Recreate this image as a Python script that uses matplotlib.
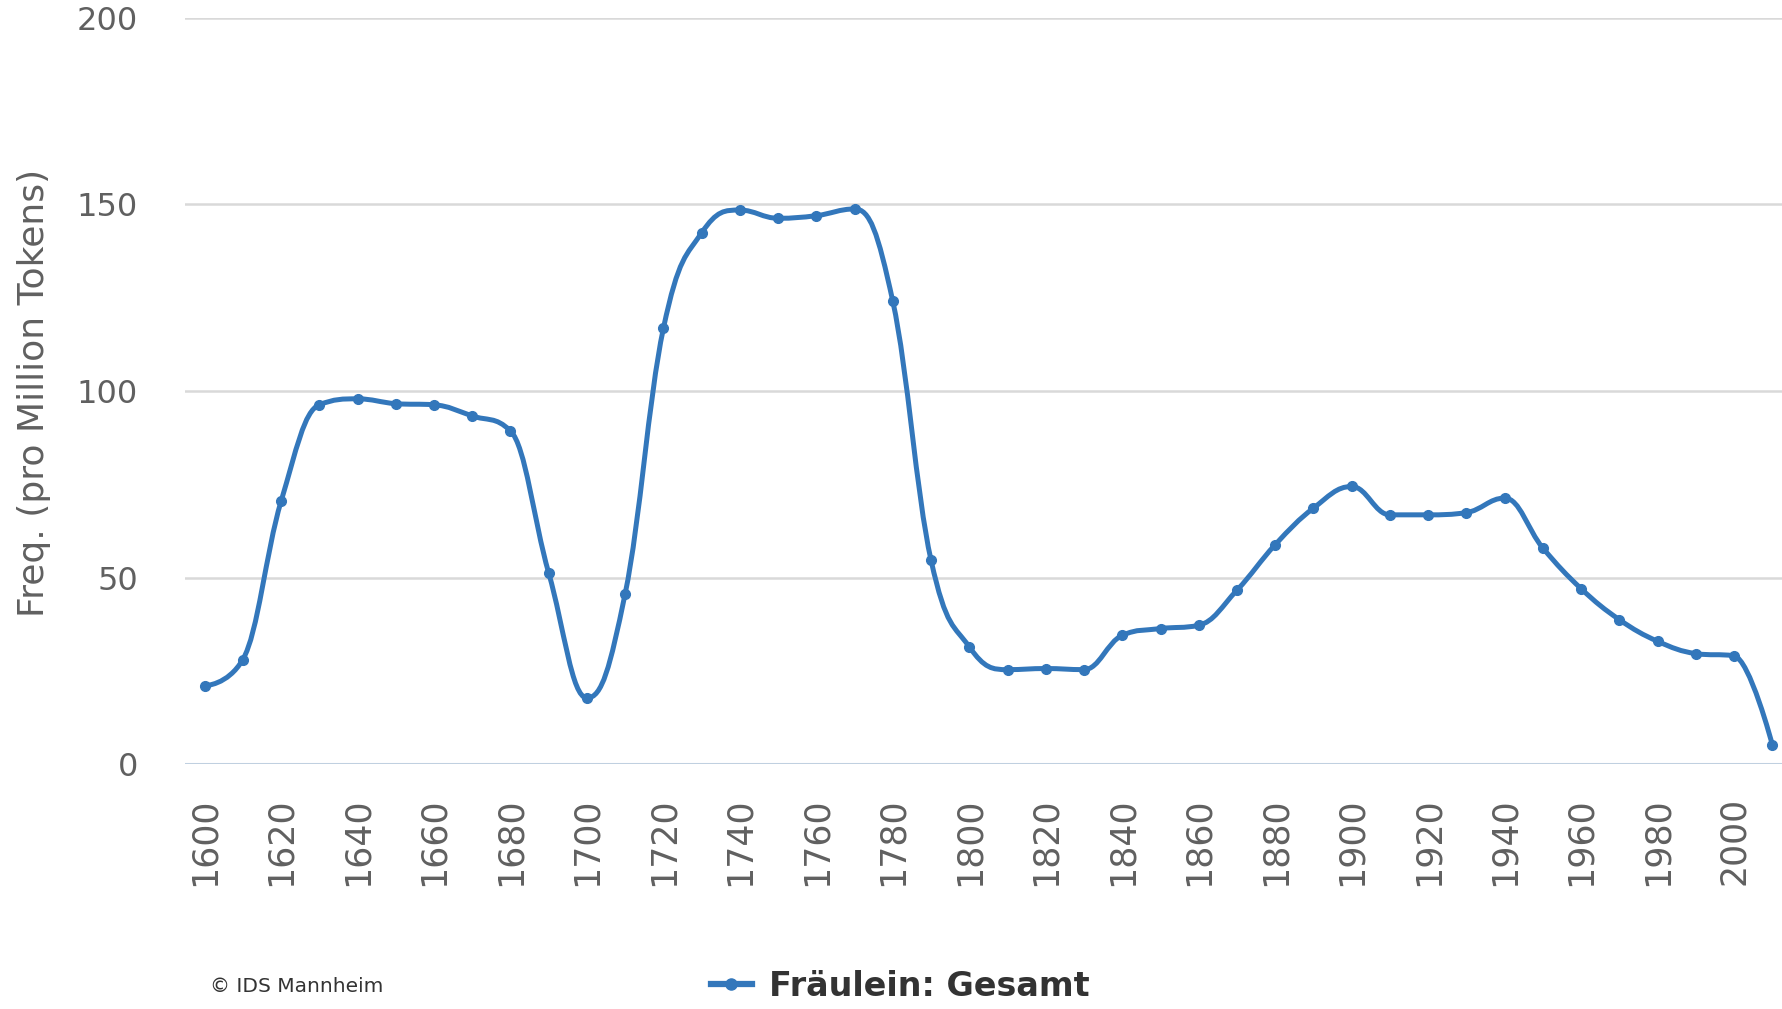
"""
Frecuencia de "Fräulein" (pro millón de tokens) por década, 1600-2010.
"""
#-->Importar librerías
import matplotlib
matplotlib.use("Agg")
import matplotlib.pyplot as plt
from matplotlib.path import Path
from matplotlib.patches import PathPatch

#-->Datos
jahre = [1600, 1610, 1620, 1630, 1640, 1650, 1660, 1670, 1680, 1690,
         1700, 1710, 1720, 1730, 1740, 1750, 1760, 1770, 1780, 1790,
         1800, 1810, 1820, 1830, 1840, 1850, 1860, 1870, 1880, 1890,
         1900, 1910, 1920, 1930, 1940, 1950, 1960, 1970, 1980, 1990,
         2000, 2010]
freq = [21.0, 28.0, 70.4, 96.3, 97.9, 96.6, 96.3, 93.3, 89.3, 51.2,
        17.7, 45.7, 116.8, 142.4, 148.5, 146.3, 147.0, 148.8, 124.0, 54.6,
        31.4, 25.3, 25.6, 25.3, 34.5, 36.3, 37.2, 46.6, 58.8, 68.6,
        74.4, 66.8, 66.8, 67.4, 71.3, 57.9, 47.0, 38.7, 32.9, 29.6,
        29.0, 5.2]
x_ticks = list(range(1600, 2001, 20))
y_ticks = [0, 50, 100, 150, 200]
serie_nombre = "Fräulein: Gesamt"
y_titulo = "Freq. (pro Million Tokens)"

AZUL = "#3377bb"
GRIS_TEXTO = "#606060"


#-->Curva spline al estilo Highcharts (puntos de control con smoothing 1.5)
def spline_path(xs, ys, smoothing=1.5):
    n = len(xs)
    denom = smoothing + 1
    lc = [None] * n
    rc = [None] * n
    for i in range(1, n - 1):
        px, py = xs[i], ys[i]
        lx, ly = xs[i - 1], ys[i - 1]
        nx, ny = xs[i + 1], ys[i + 1]
        lcx = (smoothing * px + lx) / denom
        lcy = (smoothing * py + ly) / denom
        rcx = (smoothing * px + nx) / denom
        rcy = (smoothing * py + ny) / denom
        corr = ((rcy - lcy) * (rcx - px)) / (rcx - lcx) + py - rcy
        lcy += corr
        rcy += corr
        if lcy > ly and lcy > py:
            lcy = max(ly, py)
            rcy = 2 * py - lcy
        elif lcy < ly and lcy < py:
            lcy = min(ly, py)
            rcy = 2 * py - lcy
        if rcy > ny and rcy > py:
            rcy = max(ny, py)
            lcy = 2 * py - rcy
        elif rcy < ny and rcy < py:
            rcy = min(ny, py)
            lcy = 2 * py - rcy
        lc[i] = (lcx, lcy)
        rc[i] = (rcx, rcy)

    verts = [(xs[0], ys[0])]
    codes = [Path.MOVETO]
    for i in range(1, n):
        c1 = rc[i - 1] if rc[i - 1] is not None else (xs[i - 1], ys[i - 1])
        c2 = lc[i] if lc[i] is not None else (xs[i], ys[i])
        verts += [c1, c2, (xs[i], ys[i])]
        codes += [Path.CURVE4] * 3
    return Path(verts, codes)


fig = plt.figure(figsize=(17.83, 10.09), dpi=100)
ax = fig.add_axes([0.1038, 0.2428, 0.8962, 0.7394])

#-->Líneas de la cuadrícula
for y in y_ticks[1:]:
    ax.axhline(y, color="#d9d9d9", linewidth=1.8, zorder=1)
ax.axhline(0, color="#c0d0e0", linewidth=2.2, zorder=1)

#-->Serie
patch = PathPatch(spline_path(jahre, freq), facecolor="none",
                  edgecolor=AZUL, linewidth=3.6, zorder=3,
                  capstyle="round", joinstyle="round")
ax.add_patch(patch)
ax.plot(jahre, freq, linestyle="none", marker="o", markersize=7,
        color=AZUL, zorder=4)

ax.set_xlim(1594.9, 2012.8)
ax.set_ylim(0, 200)

for s in ax.spines.values():
    s.set_visible(False)

ax.set_yticks(y_ticks)
ax.set_xticks(x_ticks)
ax.set_xticklabels([str(t) for t in x_ticks], rotation=90)
ax.tick_params(axis="both", length=0, labelcolor=GRIS_TEXTO)
ax.tick_params(axis="x", pad=24, labelsize=25)
ax.tick_params(axis="y", pad=34, labelsize=23)

#-->Título del eje Y
fig.text(0.019, 0.611, y_titulo, rotation=90, ha="center", va="center",
         fontsize=26, color=GRIS_TEXTO)

#-->Leyenda y copyright
ly = 0.022
fig.add_artist(plt.Line2D([0.3985, 0.4215], [ly + 0.0025, ly + 0.0025],
                          color=AZUL, linewidth=4.5,
                          transform=fig.transFigure))
fig.add_artist(plt.Line2D([0.41], [ly + 0.0025], marker="o", markersize=8,
                          color=AZUL, transform=fig.transFigure))
fig.text(0.4315, ly, serie_nombre, ha="left", va="center",
         fontsize=24, fontweight="bold", color="#333333")
fig.text(0.118, ly, "© IDS Mannheim", ha="left", va="center",
         fontsize=14.5, color="#333333")

plt.savefig("out.png", dpi=100)
